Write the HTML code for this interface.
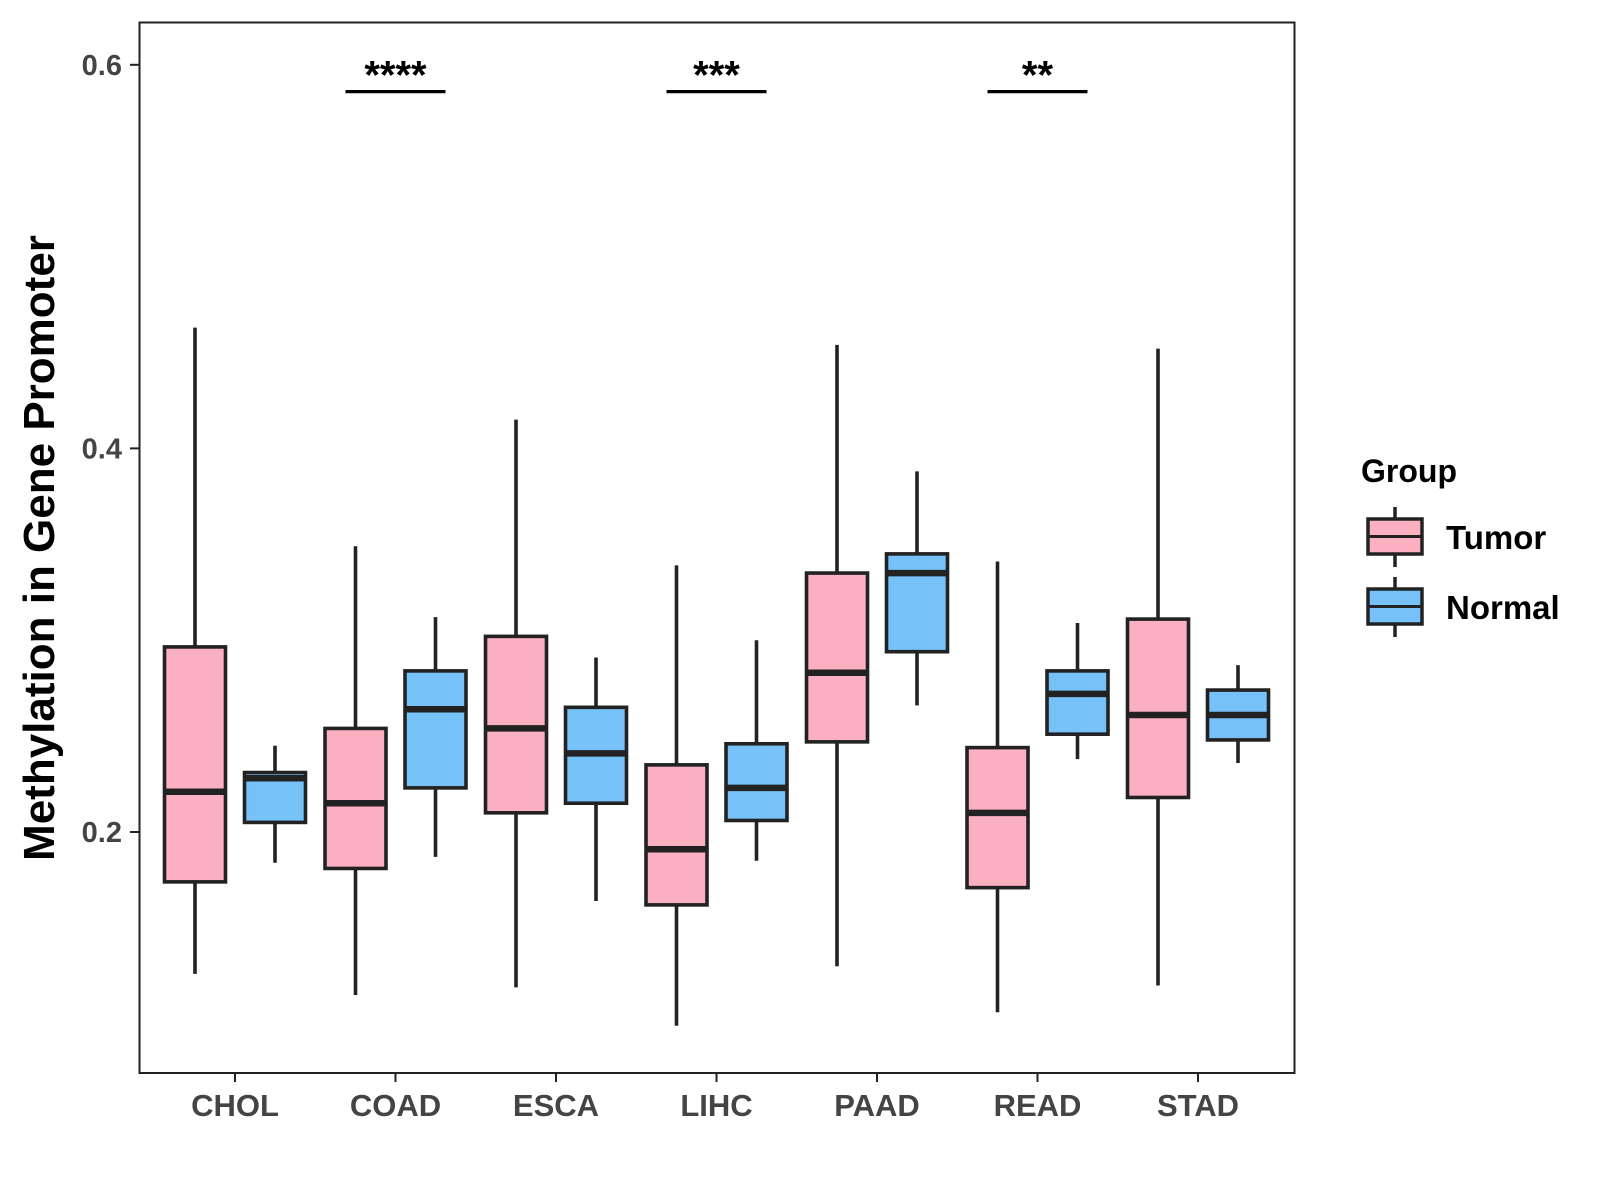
<!DOCTYPE html>
<html><head><meta charset="utf-8">
<style>body{margin:0;background:#fff}svg{display:block}text{font-family:"Liberation Sans",Arial,sans-serif;font-weight:bold}</style>
</head><body>
<svg id="chart" width="1600" height="1200" xmlns="http://www.w3.org/2000/svg">
<rect x="139.5" y="22.5" width="1155" height="1050.5" fill="#fff" stroke="#222" stroke-width="2"/>
<text transform="translate(54,548) rotate(-90)" text-anchor="middle" font-size="44" fill="#000">Methylation in Gene Promoter</text>
<g>
<text x="1361" y="482" font-size="32" fill="#000">Group</text>
<g>
<line x1="1395" y1="507" x2="1395" y2="567" stroke="#222" stroke-width="3.5"/>
<rect x="1368" y="519" width="54" height="35" fill="#FBB0C1" stroke="#222" stroke-width="3.5"/>
<line x1="1368" y1="536.5" x2="1422" y2="536.5" stroke="#222" stroke-width="3"/>
<text x="1446" y="549" font-size="33" fill="#000">Tumor</text></g>
<g>
<line x1="1395" y1="577" x2="1395" y2="637" stroke="#222" stroke-width="3.5"/>
<rect x="1368" y="589" width="54" height="35" fill="#76C1F7" stroke="#222" stroke-width="3.5"/>
<line x1="1368" y1="606.5" x2="1422" y2="606.5" stroke="#222" stroke-width="3"/>
<text x="1446" y="619" font-size="33" fill="#000">Normal</text></g>
</g>
<g id="axes"></g>
<g id="marks"></g>
</svg>
<script>
const categories = ["CHOL","COAD","ESCA","LIHC","PAAD","READ","STAD"];
const groups = ["Tumor","Normal"];
const tumorStats = [
 [0.126,0.174,0.221,0.2965,0.463],
 [0.115,0.181,0.215,0.254,0.349],
 [0.119,0.210,0.254,0.302,0.415],
 [0.099,0.162,0.191,0.235,0.339],
 [0.130,0.247,0.283,0.335,0.454],
 [0.106,0.171,0.210,0.244,0.341],
 [0.120,0.218,0.261,0.311,0.452]];
const normalStats = [
 [0.184,0.205,0.228,0.231,0.245],
 [0.187,0.223,0.264,0.284,0.312],
 [0.164,0.215,0.241,0.265,0.291],
 [0.185,0.206,0.223,0.246,0.300],
 [0.266,0.294,0.335,0.345,0.388],
 [0.238,0.251,0.272,0.284,0.309],
 [0.236,0.248,0.261,0.274,0.287]];
const yTicks = [0.2,0.4,0.6];
const yTickLabels = ["0.2","0.4","0.6"];
const sigCategories = ["COAD","LIHC","READ"];
const sigLabels = ["****","***","**"];
const sigLevel = 0.586;

const NS="http://www.w3.org/2000/svg";
function y(v){return 832-(v-0.2)*1918;}
function x(i){return 235+i*160.5;}
function mk(tag,attrs,parent){const e=document.createElementNS(NS,tag);for(const k in attrs)e.setAttribute(k,attrs[k]);parent.appendChild(e);return e;}
const axes=document.getElementById('axes'), marks=document.getElementById('marks');
yTicks.forEach((t,i)=>{
 const l=mk('line',{x1:130,x2:139.5,y1:y(t),y2:y(t),stroke:'#222','stroke-width':2},axes);
 
 
 const tx=mk('text',{x:122,y:y(t)+10,'text-anchor':'end','font-size':29,fill:'#444'},axes);
 tx.textContent=yTickLabels[i];
 
 
});
categories.forEach((c,i)=>{
 const l=mk('line',{x1:x(i),x2:x(i),y1:1073,y2:1082,stroke:'#222','stroke-width':2},axes);
 
 
 const tx=mk('text',{x:x(i),y:1116,'text-anchor':'middle','font-size':31,fill:'#444'},axes);
 tx.textContent=c;
 
 
});
function box(s,cx,fill,name){
 const g=mk('g',{},marks);
 
 
 mk('line',{x1:cx,x2:cx,y1:y(s[0]),y2:y(s[4]),stroke:'#222','stroke-width':3.6},g);
 mk('rect',{x:cx-30.5,y:y(s[3]),width:61,height:y(s[1])-y(s[3]),fill:fill,stroke:'#222','stroke-width':3.6},g);
 mk('line',{x1:cx-30.5,x2:cx+30.5,y1:y(s[2]),y2:y(s[2]),stroke:'#222','stroke-width':6.5},g);
}
categories.forEach((c,i)=>{
 box(tumorStats[i],x(i)-40,'#FBB0C1','box-tumor-'+c.toLowerCase());
 box(normalStats[i],x(i)+40,'#76C1F7','box-normal-'+c.toLowerCase());
});
sigCategories.forEach((c,k)=>{
 const i=categories.indexOf(c);
 const l=mk('line',{x1:x(i)-50,x2:x(i)+50,y1:y(sigLevel),y2:y(sigLevel),stroke:'#000','stroke-width':3.2},marks);
 
 
 const t=mk('text',{x:x(i),y:y(sigLevel)-3,'text-anchor':'middle','font-size':40,fill:'#000'},marks);
 t.textContent=sigLabels[k];
 
 
});
</script>
</body></html>
